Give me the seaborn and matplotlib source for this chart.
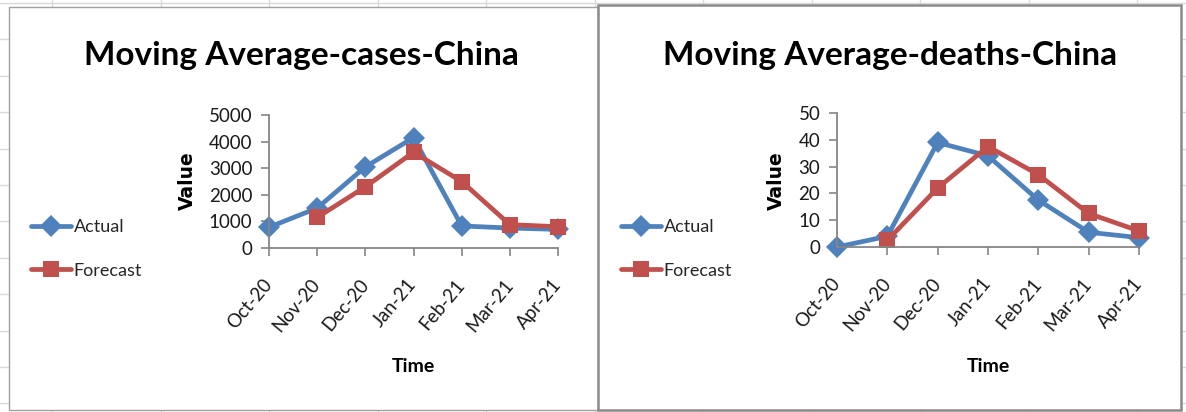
import numpy as np
import pandas as pd
import matplotlib
matplotlib.use("Agg")
import matplotlib.pyplot as plt
from matplotlib.patches import Rectangle
from matplotlib.lines import Line2D
import seaborn as sns

# values
months = ['Oct-20', 'Nov-20', 'Dec-20', 'Jan-21', 'Feb-21', 'Mar-21', 'Apr-21']
cases_actual = [780, 1500, 3050, 4150, 830, 750, 700]
cases_forecast = [np.nan, 1150, 2300, 3600, 2500, 880, 800]
deaths_actual = [0, 4, 39, 34, 17.5, 5.5, 3.5]
deaths_forecast = [np.nan, 2.5, 22, 37.5, 27, 12.5, 6]

BLUE = '#4F81BD'
RED = '#C0504D'
W, H = 1186, 412

sns.set_theme(style='white')
plt.rcParams['font.family'] = ['Lato', 'DejaVu Sans']


def fx(x):
    return x / W


def fy(y):
    return 1 - y / H


def make_frame(actual, forecast):
    return pd.DataFrame({
        'Time': months * 2,
        'Value': actual + forecast,
        'Series': ['Actual'] * len(months) + ['Forecast'] * len(months),
    })


def draw_chart(fig, box, df, ymax, ystep, title, title_x, legend_x, ylab_x):
    # box = (left, top, right, bottom) of the plot area in pixels
    l, t, r, b = box
    ax = fig.add_axes([fx(l), fy(b), fx(r - l), (b - t) / H])
    ax.set_facecolor('none')
    sns.lineplot(data=df, x='Time', y='Value', hue='Series', style='Series',
                 markers={'Actual': 'D', 'Forecast': 's'}, dashes=False,
                 palette={'Actual': BLUE, 'Forecast': RED},
                 linewidth=3.4, markersize=11, markeredgewidth=0,
                 sort=False, ax=ax)
    for line in ax.lines:
        line.set_clip_on(False)
    ax.set_xlim(0, len(months) - 1)
    ax.set_ylim(0, ymax)
    ax.set_yticks(np.arange(0, ymax + 1, ystep))
    for side in ['top', 'right']:
        ax.spines[side].set_visible(False)
    for side in ['left', 'bottom']:
        ax.spines[side].set_color('#868686')
        ax.spines[side].set_linewidth(1.3)
    ax.tick_params(axis='both', length=6, width=1.2, color='#868686',
                   labelcolor='#1a1a1a', left=True, bottom=True)
    ax.tick_params(axis='y', pad=6, labelsize=13.5)
    ax.tick_params(axis='x', pad=18, labelsize=13.5)
    for lab in ax.get_xticklabels():
        lab.set_rotation(50)
        lab.set_ha('right')
        lab.set_va('center')
        lab.set_rotation_mode('anchor')

    ax.set_ylabel('Value', fontsize=13.5, fontweight='bold', family='DejaVu Sans', color='black')
    ax.yaxis.set_label_coords(fx(ylab_x), fy(181), transform=fig.transFigure)
    ax.set_xlabel('Time', fontsize=14, fontweight='bold', color='black')
    ax.xaxis.set_label_coords(fx((l + r) / 2), fy(358), transform=fig.transFigure)

    sns.move_legend(ax, 'center left', bbox_to_anchor=(fx(legend_x), fy(249)),
                    bbox_transform=fig.transFigure, frameon=False, title=None,
                    fontsize=13, handlelength=2.2, handletextpad=0.15,
                    labelspacing=1.5, borderpad=0)

    fig.text(fx(title_x), fy(55), title, ha='center', va='center',
             fontsize=24, fontweight='bold', color='black')
    return ax


fig = plt.figure(figsize=(W / 100, H / 100), dpi=100)
fig.patch.set_facecolor('white')

# spreadsheet grid behind the two chart objects
for gx in np.arange(52, W, 108.5):
    fig.add_artist(Line2D([fx(gx), fx(gx)], [0, 1], transform=fig.transFigure,
                          color='#D9D9D9', lw=1, zorder=-5))
for gy in np.arange(3, H, 36.4):
    fig.add_artist(Line2D([0, 1], [fy(gy), fy(gy)], transform=fig.transFigure,
                          color='#D9D9D9', lw=1, zorder=-5))

fig.add_artist(Rectangle((fx(9), fy(410)), fx(598 - 9), (410 - 7) / H,
                         transform=fig.transFigure, facecolor='white',
                         edgecolor='#A0A0A0', lw=1.0, zorder=-4))
fig.add_artist(Rectangle((fx(598), fy(410)), fx(1181 - 598), (410 - 5) / H,
                         transform=fig.transFigure, facecolor='white',
                         edgecolor='#8A8A8A', lw=1.8, zorder=-3))

draw_chart(fig, (269, 115, 558, 248), make_frame(cases_actual, cases_forecast),
           5000, 1000, 'Moving Average-cases-China', 301, 22, 197)
draw_chart(fig, (837, 113, 1139, 247), make_frame(deaths_actual, deaths_forecast),
           50, 10, 'Moving Average-deaths-China', 890, 612, 786)

fig.savefig('out.png', dpi=100)
